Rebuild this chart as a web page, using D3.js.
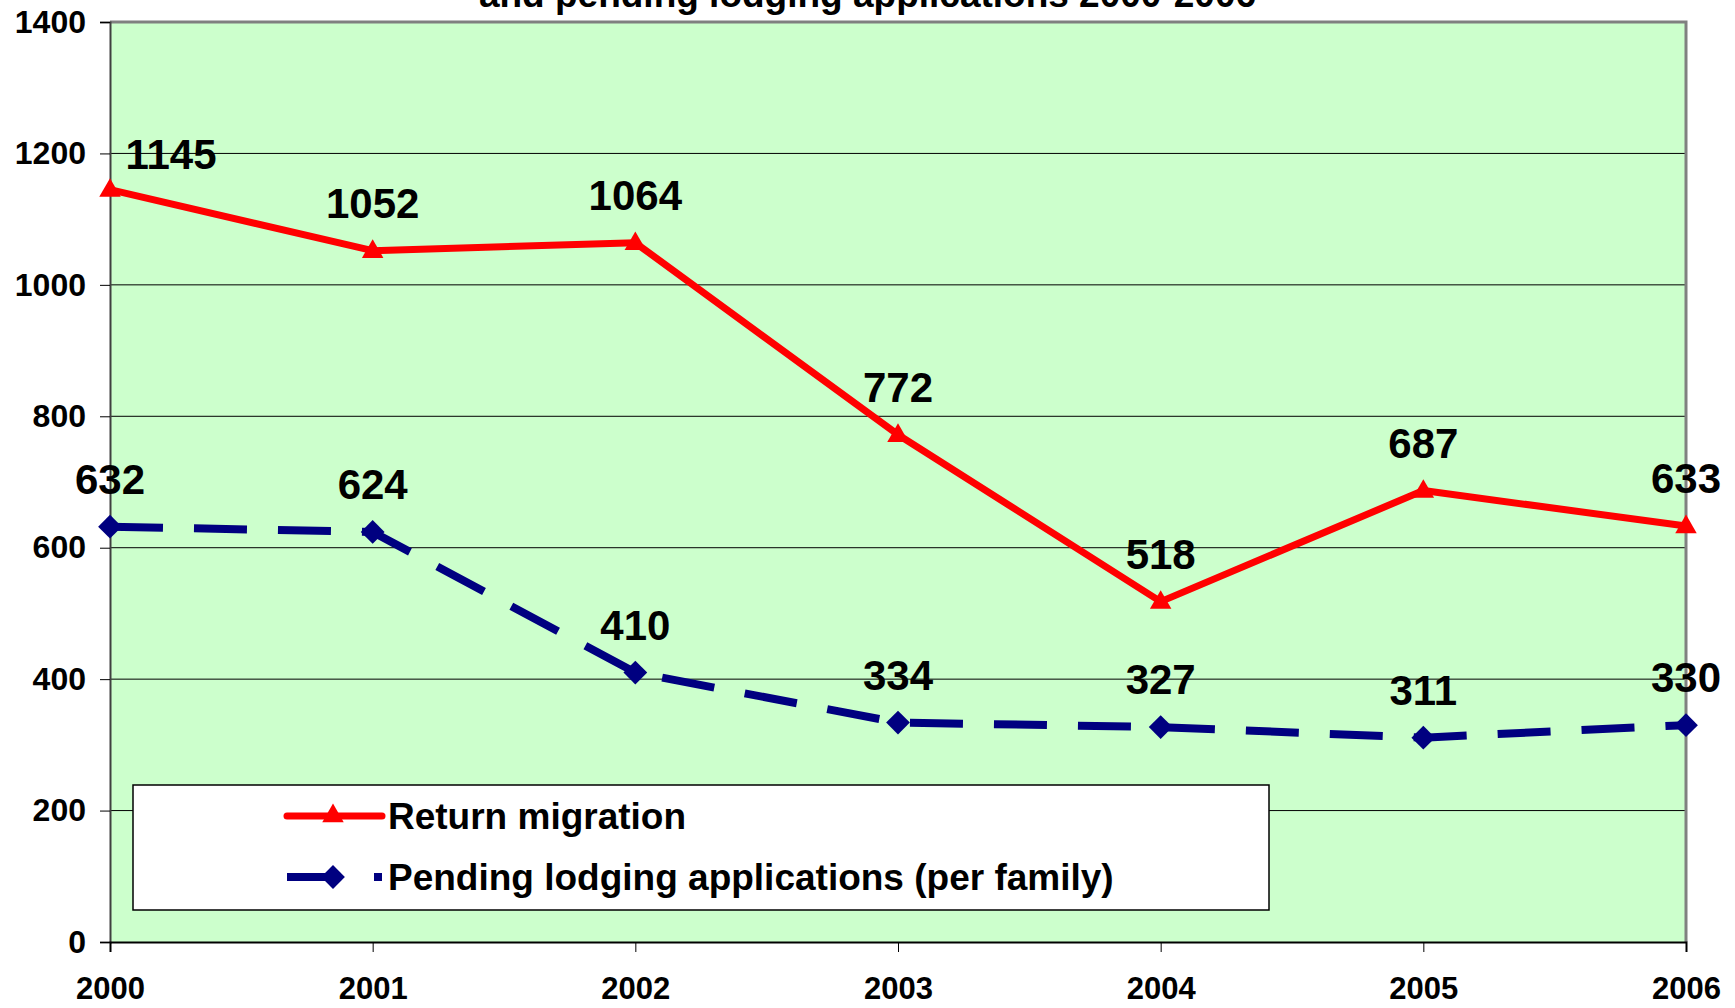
<!DOCTYPE html>
<html>
<head>
<meta charset="utf-8">
<script src="https://cdn.jsdelivr.net/npm/d3@7"></script>
<style>
  body { margin: 0; background: #fff; }
  text { font-family: "Liberation Sans", Arial, sans-serif; font-weight: bold; }
</style>
</head>
<body>
<div id="chart"></div>
<script>
const years = ["2000", "2001", "2002", "2003", "2004", "2005", "2006"];
const returnMigration = [1145, 1052, 1064, 772, 518, 687, 633];
const pendingApplications = [632, 624, 410, 334, 327, 311, 330];
const yTicks = [0, 200, 400, 600, 800, 1000, 1200, 1400];
const seriesNames = ["Return migration", "Pending lodging applications (per family)"];
const titleText = "and pending lodging applications 2000-2006";

const chartParams = {
    width: 1735,
    height: 1008,
    plot: {left: 110, right: 1686, top: 22, bottom: 942},
    bg: "#ccffcc",
    red: "#ff0000",
    blue: "#000080"
};

const svg = d3.select("#chart")
    .append("svg")
    .attr("width", chartParams.width)
    .attr("height", chartParams.height);

const p = chartParams.plot;

const x = d3.scalePoint()
    .domain(years)
    .range([p.left, p.right]);

const y = d3.scaleLinear()
    .domain([0, 1400])
    .range([p.bottom, p.top]);

// plot area
svg.append("rect")
    .attr("x", p.left)
    .attr("y", p.top)
    .attr("width", p.right - p.left)
    .attr("height", p.bottom - p.top)
    .attr("fill", chartParams.bg);

// gridlines
svg.append("g")
    .selectAll("line")
    .data(yTicks.filter(d => d > 0 && d < 1400))
    .enter().append("line")
        .attr("x1", p.left)
        .attr("x2", p.right)
        .attr("y1", d => y(d))
        .attr("y2", d => y(d))
        .attr("stroke", "#000")
        .attr("stroke-width", 1);

// top and right border
svg.append("path")
    .attr("d", `M${p.left},${p.top}H${p.right}V${p.bottom}`)
    .attr("fill", "none")
    .attr("stroke", "#808080")
    .attr("stroke-width", 3);

// Y-axis
const yAxis = svg.append("g")
    .attr("transform", `translate(${p.left},0)`)
    .call(d3.axisLeft(y).tickValues(yTicks).tickFormat(d3.format("d")).tickSize(10).tickPadding(14));
yAxis.select(".domain").attr("stroke", "#404040").attr("stroke-width", 2);
yAxis.selectAll(".tick line").attr("stroke", "#000");
yAxis.selectAll("text")
    .attr("font-size", "32px")
    .attr("font-family", "Liberation Sans, Arial, sans-serif")
    .attr("font-weight", "bold")
    .attr("fill", "#000");

// X-axis
const xAxis = svg.append("g")
    .attr("transform", `translate(0,${p.bottom})`)
    .call(d3.axisBottom(x).tickSize(10).tickPadding(25));
xAxis.select(".domain").attr("stroke", "#000").attr("stroke-width", 2);
xAxis.selectAll(".tick line").attr("stroke", "#000");
xAxis.selectAll("text")
    .attr("font-size", "31px")
    .attr("font-family", "Liberation Sans, Arial, sans-serif")
    .attr("font-weight", "bold")
    .attr("fill", "#000");

// title, only its lower part sits inside the picture
svg.append("text")
    .attr("x", chartParams.width / 2)
    .attr("y", 7)
    .attr("text-anchor", "middle")
    .attr("font-size", "37px")
    .text(titleText);

const line = d3.line()
    .x((d, i) => x(years[i]))
    .y(d => y(d));

// pending applications, dashed navy
svg.append("path")
    .datum(pendingApplications)
    .attr("d", line)
    .attr("fill", "none")
    .attr("stroke", chartParams.blue)
    .attr("stroke-width", 8)
    .attr("stroke-dasharray", "53,31");

// return migration, solid red
svg.append("path")
    .datum(returnMigration)
    .attr("d", line)
    .attr("fill", "none")
    .attr("stroke", chartParams.red)
    .attr("stroke-width", 7)
    .attr("stroke-linejoin", "round");

const triangle = d3.symbol().type(d3.symbolTriangle).size(200);
const diamond = d3.symbol().type(d3.symbolDiamond2).size(360);

svg.append("g")
    .selectAll("path")
    .data(pendingApplications)
    .enter().append("path")
        .attr("d", diamond)
        .attr("transform", (d, i) => `translate(${x(years[i])},${y(d)})`)
        .attr("fill", chartParams.blue);

svg.append("g")
    .selectAll("path")
    .data(returnMigration)
    .enter().append("path")
        .attr("d", triangle)
        .attr("transform", (d, i) => `translate(${x(years[i])},${y(d) + 1})`)
        .attr("fill", chartParams.red);

// data labels
function addLabels(values, nudge) {
    svg.append("g")
        .selectAll("text")
        .data(values)
        .enter().append("text")
            .attr("x", (d, i) => x(years[i]) + (nudge[i] ? nudge[i][0] : 0))
            .attr("y", (d, i) => y(d) - 33 + (nudge[i] ? nudge[i][1] : 0))
            .attr("text-anchor", "middle")
            .attr("font-size", "42px")
            .attr("fill", "#000")
            .text(d => d);
}
addLabels(returnMigration, {0: [61, 12]});
addLabels(pendingApplications, {});

// legend
const legend = svg.append("g");
legend.append("rect")
    .attr("x", 133)
    .attr("y", 785)
    .attr("width", 1136)
    .attr("height", 125)
    .attr("fill", "#fff")
    .attr("stroke", "#000")
    .attr("stroke-width", 1.5);

const legendRows = [
    {name: seriesNames[0], color: chartParams.red, width: 7, dash: null, sym: triangle, y: 816},
    {name: seriesNames[1], color: chartParams.blue, width: 8, dash: "50,37,10", sym: diamond, y: 877}
];

const legendItem = legend.selectAll("g")
    .data(legendRows)
    .enter().append("g")
        .attr("transform", d => `translate(0,${d.y})`);

legendItem.append("line")
    .attr("x1", 287)
    .attr("x2", 382)
    .attr("stroke", d => d.color)
    .attr("stroke-width", d => d.width)
    .attr("stroke-linecap", d => d.dash ? "butt" : "round")
    .attr("stroke-dasharray", d => d.dash);

legendItem.append("path")
    .attr("d", d => d.sym())
    .attr("transform", "translate(333,0)")
    .attr("fill", d => d.color);

legendItem.append("text")
    .attr("x", 388)
    .attr("dy", "0.35em")
    .attr("font-size", "37px")
    .attr("fill", "#000")
    .text(d => d.name);
</script>
</body>
</html>
